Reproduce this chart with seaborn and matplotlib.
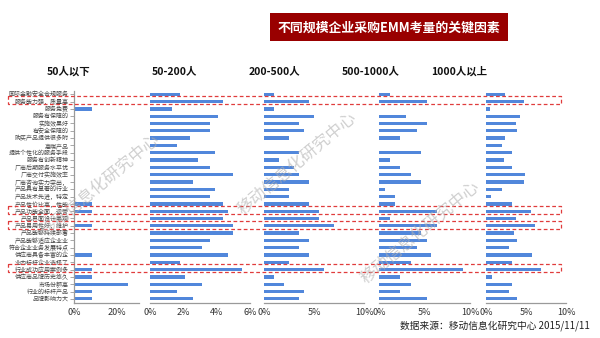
import matplotlib
matplotlib.use("Agg")
import matplotlib.pyplot as plt
import matplotlib.transforms as mtransforms
from matplotlib.patches import Rectangle
import numpy as np
import pandas as pd
import seaborn as sns

sns.set_theme(style="white")
plt.rcParams["font.family"] = ["Noto Sans CJK SC", "DejaVu Sans"]

factors = [
    "国际金融安全合规服务", "服务能力强，质量高", "服务免费", "服务有保障的", "实施效果好",
    "有安全保障的", "购买产品提供很多附", "高端产品", "提供个性化的服务手段", "服务有创新精神",
    "厂商后期服务水平优", "厂商交付实施效率", "厂商咨询实力突出，", "产品具有显著的行业",
    "产品技术先进，特定", "产品性价比高，性能", "产品功能全面，运营", "产品界面设计美观",
    "产品易用性好，维护", "产品能够持续部署", "产品能够适应企业业", "符合企业业务发展特点",
    "供应商具备丰富的企", "业内标杆企业选择了", "行业成功应用案例多", "供应商品牌历史悠久",
    "市场份额高", "行业的标杆产品", "品牌影响力大",
]

size_groups = ["50人以下", "50-200人", "200-500人", "500-1000人", "1000人以上"]

# share of respondents (%) citing each factor, per company size
under_50 = [0, 0, 8.3, 0, 0, 0, 0, 0, 0, 0, 0, 0, 0, 0, 0,
            8.3, 8.3, 0, 8.3, 0, 0, 0, 8.3, 0, 8.3, 8.3, 25.0, 8.3, 8.3]
s50_200 = [1.8, 4.4, 1.3, 4.1, 3.6, 3.6, 2.4, 1.6, 3.9, 2.9, 3.6, 5.0, 2.6, 3.9, 3.6,
           4.4, 4.7, 4.4, 5.0, 5.0, 3.6, 3.1, 4.7, 1.8, 5.5, 2.1, 3.1, 1.6, 2.6]
s200_500 = [1.0, 4.5, 1.0, 5.0, 3.5, 4.0, 2.5, 0, 3.5, 1.5, 3.0, 3.5, 4.5, 2.5, 2.5,
            4.5, 5.5, 5.5, 7.0, 3.5, 4.5, 3.5, 4.5, 2.5, 6.0, 1.0, 2.0, 4.0, 3.5]
s500_1000 = [1.2, 5.2, 0, 2.9, 5.2, 4.1, 2.3, 0, 4.6, 1.2, 2.3, 3.5, 4.6, 0.6, 1.7,
             1.7, 6.3, 1.2, 6.3, 4.6, 5.2, 4.1, 5.7, 3.5, 9.2, 2.3, 3.5, 2.3, 5.2]
over_1000 = [2.4, 4.7, 0.5, 4.3, 3.8, 3.9, 2.4, 2.0, 3.3, 2.3, 3.3, 4.9, 4.7, 2.0, 0.6,
             3.3, 5.6, 3.7, 6.1, 3.5, 3.9, 2.9, 5.8, 3.3, 6.9, 0.8, 3.2, 2.9, 3.9]

highlighted = ["服务能力强，质量高", "产品功能全面，运营", "产品易用性好，维护", "行业成功应用案例多"]

df = pd.DataFrame({
    "factor": factors,
    size_groups[0]: under_50,
    size_groups[1]: s50_200,
    size_groups[2]: s200_500,
    size_groups[3]: s500_1000,
    size_groups[4]: over_1000,
})

W, H = 600, 338
fig = plt.figure(figsize=(W / 100, H / 100), dpi=100)
fig.patch.set_facecolor("white")

# panel geometry in pixels: (left, width, xmax, ticks, title centre x)
panels = [
    (74.0, 64.5, 30, [0, 20], 69),
    (150.0, 100.0, 6, [0, 2, 4, 6], 174),
    (264.0, 100.0, 10, [0, 5, 10], 274),
    (379.3, 91.0, 10, [0, 5, 10], 371),
    (486.0, 80.0, 10, [0, 5, 10], 459),
]
top_px, bottom_px = 90.6, 302.5

bar_color = "#5187db"

axes = []
for i, (grp, (lx, wd, xmax, ticks, tx)) in enumerate(zip(size_groups, panels)):
    ax = fig.add_axes([lx / W, (H - bottom_px) / H, wd / W, (bottom_px - top_px) / H])
    sns.barplot(data=df, x=grp, y="factor", orient="h", ax=ax,
                color=bar_color, width=0.45, saturation=1,
                linewidth=0, edgecolor="none")
    ax.set_xlim(0, xmax)
    ax.set_ylim(len(factors) - 0.5, -0.5)
    ax.set_xticks(ticks)
    ax.set_xticklabels([f"{t}%" for t in ticks], fontsize=6.5, color="#333333")
    ax.set_xlabel("")
    ax.set_ylabel("")
    ax.set_facecolor("none")
    for s in ["top", "right"]:
        ax.spines[s].set_visible(False)
    ax.spines["bottom"].set_color("#9a9a9a")
    ax.spines["bottom"].set_linewidth(0.9)
    ax.tick_params(axis="x", direction="in", length=3, width=0.8, color="#9a9a9a", pad=4)
    if i == 0:
        ax.spines["left"].set_color("#9a9a9a")
        ax.spines["left"].set_linewidth(0.9)
        ax.tick_params(axis="y", direction="out", length=3, width=0.6, color="#9a9a9a",
                       labelsize=4.3, labelcolor="#444444", pad=1, left=True)
    else:
        ax.spines["left"].set_visible(False)
        ax.set_yticks([])
    fig.text(tx / W, 1 - 71 / H, grp, ha="center", va="center",
             fontsize=7.5, fontweight="bold", color="#111111")
    axes.append(ax)

# dashed frames around the key factors, spanning all panels
trans = mtransforms.blended_transform_factory(fig.transFigure, axes[-1].transData)
for name in highlighted:
    r = factors.index(name)
    rect = Rectangle((8 / W, r - 0.72), (561 - 8) / W, 1.1, transform=trans,
                     fill=False, edgecolor="#e03c3c", linestyle=(0, (3, 2)),
                     linewidth=0.9, clip_on=False, zorder=5)
    fig.add_artist(rect)

# title banner
fig.add_artist(Rectangle((270 / W, 1 - 41 / H), (508 - 270) / W, 28 / H,
                         transform=fig.transFigure, facecolor="#990000",
                         edgecolor="none"))
fig.text(389 / W, 1 - 27.5 / H, "不同规模企业采购EMM考量的关键因素", ha="center",
         va="center", fontsize=9.3, fontweight="bold", color="white")

# watermarks
for (wx, wy) in [(100, 185), (297, 163), (420, 232)]:
    fig.text(wx / W, 1 - wy / H, "移动信息化研究中心", ha="center", va="center",
             rotation=40, fontsize=12, color="#b0b0b0", alpha=0.6, zorder=10)

fig.text(590 / W, 1 - 326 / H, "数据来源：移动信息化研究中心 2015/11/11",
         ha="right", va="center", fontsize=7, color="#222222")

fig.savefig("out.png", dpi=100, facecolor="white")
